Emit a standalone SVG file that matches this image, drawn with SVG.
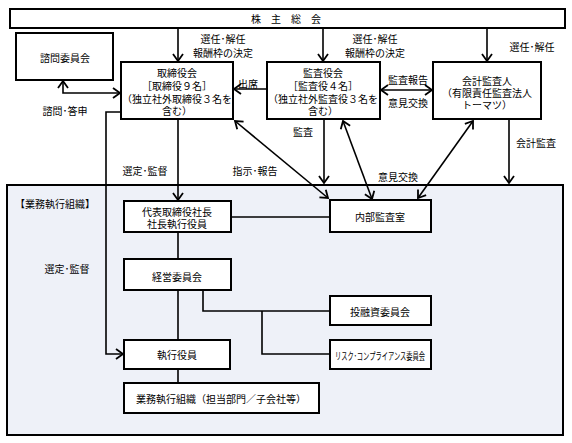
<svg xmlns="http://www.w3.org/2000/svg" width="572" height="443" viewBox="0 0 572 443">
<style>
.box{fill:#fff;stroke:#000;stroke-width:2}
.ln{fill:none;stroke:#000;stroke-width:1.6}
.ar{marker-end:url(#ah)}
.dar{marker-start:url(#ah);marker-end:url(#ah)}
text{font-family:"Noto Sans CJK JP","Noto Sans CJK SC",sans-serif;font-size:10px;fill:#000;text-anchor:middle;dominant-baseline:central}
.l{text-anchor:start}
</style>
<defs>
<marker id="ah" markerUnits="userSpaceOnUse" markerWidth="14" markerHeight="14" refX="0" refY="0" viewBox="-10 -7 14 14" orient="auto-start-reverse">
<path d="M-7,-5 L0,0 L-7,5" fill="none" stroke="#000" stroke-width="1.8"/>
</marker>
</defs>
<rect id="exec-area" x="7" y="185" width="556" height="250" fill="#eef1f8" stroke="#000" stroke-width="2"/>
<text class="l" x="15" y="203">【業務執行組織】</text>
<g id="connectors">
<line class="ln ar" x1="178" y1="28" x2="178" y2="61"/>
<line class="ln ar" x1="323" y1="28" x2="323" y2="61"/>
<line class="ln ar" x1="487" y1="28" x2="487" y2="61"/>
<polyline class="ln dar" points="63,81 63,93 120,93"/>
<line class="ln ar" x1="267" y1="89" x2="234" y2="89"/>
<line class="ln dar" x1="381" y1="90" x2="432" y2="90"/>
<line class="ln ar" x1="178" y1="119" x2="178" y2="200"/>
<polyline class="ln ar" points="121,112 106,112 106,354 123,354"/>
<line class="ln ar" x1="324" y1="119" x2="324" y2="183"/>
<line class="ln ar" x1="509" y1="119" x2="509" y2="183"/>
<line class="ln dar" x1="235" y1="121" x2="328" y2="198"/>
<line class="ln dar" x1="343" y1="121" x2="372" y2="199"/>
<line class="ln dar" x1="473" y1="121" x2="418" y2="198"/>
<line class="ln" x1="231" y1="217" x2="330" y2="217"/>
<line class="ln" x1="178" y1="232" x2="178" y2="259"/>
<line class="ln" x1="178" y1="290" x2="178" y2="340"/>
<polyline class="ln" points="203,290 203,311 330,311"/>
<polyline class="ln" points="262,311 262,354 330,354"/>
<line class="ln" x1="178" y1="369" x2="178" y2="383"/>
</g>
<g id="labels">
<text x="223" y="38">選任･解任</text>
<text x="223" y="52">報酬枠の決定</text>
<text x="375" y="38">選任･解任</text>
<text x="375" y="52">報酬枠の決定</text>
<text x="532" y="46">選任･解任</text>
<text x="65" y="110">諮問･答申</text>
<text x="248" y="83">出席</text>
<text x="408" y="79">監査報告</text>
<text x="408" y="102">意見交換</text>
<text x="303" y="131">監査</text>
<text x="536" y="142">会計監査</text>
<text x="145" y="170">選定･監督</text>
<text x="255" y="170">指示･報告</text>
<text x="398" y="176">意見交換</text>
<text x="67" y="268">選定･監督</text>
</g>
<g id="shareholders">
<rect class="box" x="10" y="9" width="555" height="19"/>
<text x="286" y="18.5">株　主　総　会</text>
</g>
<g id="advisory">
<rect class="box" x="16" y="33" width="97" height="47"/>
<text x="65" y="57">諮問委員会</text>
</g>
<g id="board">
<rect class="box" x="121" y="62" width="112" height="57"/>
<text x="177" y="72">取締役会</text>
<text x="177" y="85">［取締役９名］</text>
<text x="177" y="98">（独立社外取締役３名を</text>
<text x="177" y="110">含む）</text>
</g>
<g id="auditors">
<rect class="box" x="267" y="62" width="113" height="57"/>
<text x="323" y="72">監査役会</text>
<text x="323" y="85">［監査役４名］</text>
<text x="323" y="98">（独立社外監査役３名を</text>
<text x="323" y="110">含む）</text>
</g>
<g id="accounting-auditor">
<rect class="box" x="433" y="62" width="108" height="57"/>
<text x="487" y="80">会計監査人</text>
<text x="487" y="92">（有限責任監査法人</text>
<text x="487" y="104">トーマツ）</text>
</g>
<g id="president">
<rect class="box" x="124" y="201" width="107" height="31"/>
<text x="177" y="211">代表取締役社長</text>
<text x="177" y="223">社長執行役員</text>
</g>
<g id="internal-audit">
<rect class="box" x="330" y="200" width="101" height="32"/>
<text x="380" y="216">内部監査室</text>
</g>
<g id="management-committee">
<rect class="box" x="124" y="259" width="107" height="31"/>
<text x="177" y="276">経営委員会</text>
</g>
<g id="investment-committee">
<rect class="box" x="330" y="296" width="101" height="29"/>
<text x="380" y="311">投融資委員会</text>
</g>
<g id="risk-committee">
<rect class="box" x="330" y="340" width="101" height="29"/>
<text x="380" y="355" textLength="90" lengthAdjust="spacingAndGlyphs">リスク･コンプライアンス委員会</text>
</g>
<g id="executive-officers">
<rect class="box" x="124" y="340" width="106" height="29"/>
<text x="177" y="354">執行役員</text>
</g>
<g id="business-org">
<rect class="box" x="124" y="383" width="195" height="30"/>
<text x="221" y="398">業務執行組織（担当部門／子会社等）</text>
</g>
</svg>
